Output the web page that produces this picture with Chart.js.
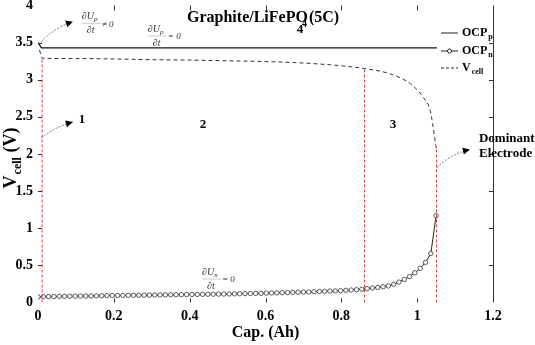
<!DOCTYPE html>
<html>
<head>
  <script src="https://cdn.jsdelivr.net/npm/chart.js"></script>
  <style>
    body { margin: 0; background: #fff; }
  </style>
</head>
<body>
  <canvas id="chart" width="535" height="345"></canvas>
  <script>
    // OCP of the positive electrode
    const capP = [0, 0.009, 1.052];
    const ocpP = [3.5, 3.43, 3.43];

    // OCP of the negative electrode (circle markers)
    const capN = [0, 0.014, 0.028, 0.042, 0.056, 0.07, 0.084, 0.098, 0.112, 0.126,
      0.14, 0.154, 0.168, 0.182, 0.196, 0.21, 0.224, 0.238, 0.252, 0.266,
      0.28, 0.294, 0.308, 0.322, 0.336, 0.35, 0.364, 0.378, 0.392, 0.406,
      0.42, 0.434, 0.448, 0.462, 0.476, 0.49, 0.504, 0.518, 0.532, 0.546,
      0.56, 0.574, 0.588, 0.602, 0.616, 0.63, 0.644, 0.658, 0.672, 0.686,
      0.7, 0.714, 0.728, 0.742, 0.756, 0.77, 0.784, 0.798, 0.812, 0.826,
      0.84, 0.854, 0.868, 0.882, 0.896, 0.91, 0.924, 0.938, 0.952, 0.966,
      0.98, 0.994, 1.008, 1.022, 1.036, 1.05];
    const ocpN = [0.075, 0.078, 0.080, 0.081, 0.082, 0.083, 0.084, 0.085, 0.086, 0.087,
      0.088, 0.089, 0.091, 0.092, 0.093, 0.094, 0.095, 0.096, 0.097, 0.098,
      0.099, 0.100, 0.101, 0.102, 0.103, 0.104, 0.105, 0.106, 0.107, 0.108,
      0.109, 0.110, 0.111, 0.112, 0.113, 0.114, 0.115, 0.117, 0.118, 0.120,
      0.121, 0.123, 0.124, 0.126, 0.128, 0.130, 0.132, 0.134, 0.136, 0.138,
      0.140, 0.142, 0.145, 0.148, 0.151, 0.154, 0.157, 0.160, 0.164, 0.168,
      0.173, 0.180, 0.187, 0.195, 0.203, 0.212, 0.223, 0.245, 0.275, 0.31,
      0.35, 0.40, 0.46, 0.54, 0.66, 1.17];

    // cell voltage (dashed)
    const capCell = [0.004, 0.011, 0.1, 0.2, 0.3, 0.4, 0.5, 0.6, 0.7, 0.796,
      0.862, 0.928, 0.981, 1.015, 1.034, 1.042, 1.049, 1.051];
    const vCell = [3.40, 3.29, 3.285, 3.28, 3.27, 3.265, 3.255, 3.245, 3.225, 3.19,
      3.15, 3.08, 2.95, 2.77, 2.59, 2.37, 2.12, 2.08];

    // red dashed phase boundaries
    const phaseCap = [0.011, 0.861, 1.051];
    const phaseTop = [3.29, 3.15, 2.1];

    const xTicks = [0, 0.2, 0.4, 0.6, 0.8, 1, 1.2];
    const yTicks = [0, 0.5, 1, 1.5, 2, 2.5, 3, 3.5, 4];

    const SERIF = '"Liberation Serif", "DejaVu Serif", serif';
    const pts = (xs, ys) => xs.map((x, i) => ({ x: x, y: ys[i] }));

    const datasets = phaseCap.map((c, i) => ({
      data: [{ x: c, y: 0 }, { x: c, y: phaseTop[i] }],
      borderColor: 'rgba(222,40,40,0.9)',
      borderWidth: 1,
      borderDash: [3, 2],
      pointRadius: 0
    }));
    datasets.push({
      data: pts(capP, ocpP),
      borderColor: '#111',
      borderWidth: 1.3,
      pointRadius: 0
    });
    datasets.push({
      data: pts(capCell, vCell),
      borderColor: '#333',
      borderWidth: 1,
      borderDash: [4, 3],
      cubicInterpolationMode: 'monotone',
      pointRadius: 0
    });
    datasets.push({
      data: pts(capN, ocpN),
      borderColor: '#222',
      borderWidth: 1,
      pointRadius: 2.2,
      pointBorderWidth: 0.8,
      pointBorderColor: '#333',
      pointBackgroundColor: '#fff'
    });

    function subText(ctx, base, sub, x, y, size, subSize) {
      ctx.font = 'bold ' + size + 'px ' + SERIF;
      ctx.fillText(base, x, y);
      const w = ctx.measureText(base).width;
      ctx.font = 'bold ' + subSize + 'px ' + SERIF;
      ctx.fillText(sub, x + w + 1, y + size * 0.35);
    }

    function frac(ctx, cx, by, sub, tail) {
      ctx.save();
      ctx.fillStyle = '#333';
      ctx.strokeStyle = '#999';
      ctx.textBaseline = 'middle';
      ctx.font = 'italic 10px ' + SERIF;
      const nw = ctx.measureText('\u2202U').width;
      ctx.fillText('\u2202U', cx - 10, by - 7);
      ctx.font = 'italic 7px ' + SERIF;
      ctx.fillText(sub, cx - 10 + nw, by - 4);
      ctx.lineWidth = 0.5;
      ctx.beginPath();
      ctx.moveTo(cx - 10, by);
      ctx.lineTo(cx + 9, by);
      ctx.stroke();
      ctx.font = 'italic 10px ' + SERIF;
      ctx.fillText('\u2202t', cx - 5, by + 7);
      ctx.font = 'italic 9px ' + SERIF;
      ctx.fillText(tail, cx + 10, by + 1);
      ctx.restore();
    }

    function arrow(ctx, x0, y0, x1, y1, bend) {
      const mx = (x0 + x1) / 2, my = (y0 + y1) / 2;
      const dx = x1 - x0, dy = y1 - y0, len = Math.hypot(dx, dy);
      const cx = mx - dy / len * bend, cy = my + dx / len * bend;
      ctx.save();
      ctx.strokeStyle = '#555';
      ctx.lineWidth = 0.8;
      ctx.setLineDash([2, 1.5]);
      ctx.beginPath();
      ctx.moveTo(x0, y0);
      ctx.quadraticCurveTo(cx, cy, x1, y1);
      ctx.stroke();
      const a = Math.atan2(y1 - cy, x1 - cx);
      ctx.setLineDash([]);
      ctx.fillStyle = '#000';
      ctx.beginPath();
      ctx.moveTo(x1, y1);
      ctx.lineTo(x1 - 7 * Math.cos(a) + 3.5 * Math.sin(a), y1 - 7 * Math.sin(a) - 3.5 * Math.cos(a));
      ctx.lineTo(x1 - 7 * Math.cos(a) - 3.5 * Math.sin(a), y1 - 7 * Math.sin(a) + 3.5 * Math.cos(a));
      ctx.closePath();
      ctx.fill();
      ctx.restore();
    }

    const decor = {
      id: 'decor',
      afterDraw(chart) {
        const ctx = chart.ctx;
        const sx = chart.scales.x, sy = chart.scales.y;
        const a = chart.chartArea;
        const X = v => sx.getPixelForValue(v), Y = v => sy.getPixelForValue(v);

        // right frame line and inward ticks
        ctx.save();
        ctx.strokeStyle = '#333';
        ctx.lineWidth = 1;
        ctx.beginPath();
        ctx.moveTo(a.right + 0.5, a.top);
        ctx.lineTo(a.right + 0.5, a.bottom);
        xTicks.slice(1, -1).forEach(t => {
          const px = Math.round(X(t)) + 0.5;
          ctx.moveTo(px, a.bottom); ctx.lineTo(px, a.bottom - 4);
          ctx.moveTo(px, a.top); ctx.lineTo(px, a.top + 5);
        });
        yTicks.slice(1, -1).forEach(t => {
          const py = Math.round(Y(t)) + 0.5;
          ctx.moveTo(a.left, py); ctx.lineTo(a.left + 4, py);
          ctx.moveTo(a.right, py); ctx.lineTo(a.right - 4, py);
        });
        ctx.stroke();
        ctx.restore();

        ctx.save();
        ctx.fillStyle = '#000';
        ctx.textBaseline = 'middle';

        // title
        ctx.font = 'bold 16px ' + SERIF;
        const tx = X(0.393), ty = Y(3.83);
        ctx.fillText('Graphite/LiFePO', tx, ty);
        const tw = ctx.measureText('Graphite/LiFePO').width;
        ctx.font = 'bold 10px ' + SERIF;
        ctx.fillText('4', tx + tw - 6, ty + 6);
        ctx.font = 'bold 16px ' + SERIF;
        ctx.fillText('(5C)', tx + tw + 1, ty);

        // region numbers
        ctx.font = 'bold 13px ' + SERIF;
        ctx.textAlign = 'center';
        ctx.fillText('1', X(0.116), Y(2.46));
        ctx.fillText('2', X(0.435), Y(2.39));
        ctx.fillText('3', X(0.936), Y(2.40));
        ctx.fillText('4', X(0.691), Y(3.67));
        ctx.textAlign = 'left';

        // dominant electrode note
        ctx.font = 'bold 13px ' + SERIF;
        ctx.fillText('Dominant', X(1.163), Y(2.21));
        ctx.fillText('Electrode', X(1.163), Y(2.0));

        // derivative notes
        frac(ctx, X(0.142), Y(3.76), 'p', '\u2260 0');
        frac(ctx, X(0.316), Y(3.59), 'p', '= 0');
        frac(ctx, X(0.459), Y(0.316), 'n', '= 0');

        arrow(ctx, X(0.008), Y(3.51), X(0.092), Y(3.78), -5);
        arrow(ctx, X(0.008), Y(2.21), X(0.092), Y(2.43), -4);
        arrow(ctx, X(1.052), Y(1.82), X(1.139), Y(2.06), -5);

        // legend
        const lx0 = 441, lx1 = 458, tx0 = 462;
        const rows = [33, 51, 68];
        ctx.strokeStyle = '#222';
        ctx.lineWidth = 1;
        ctx.beginPath();
        ctx.moveTo(lx0, rows[0]); ctx.lineTo(lx1, rows[0]);
        ctx.moveTo(lx0, rows[1]); ctx.lineTo(lx1, rows[1]);
        ctx.stroke();
        ctx.beginPath();
        ctx.fillStyle = '#fff';
        ctx.arc((lx0 + lx1) / 2, rows[1], 2, 0, Math.PI * 2);
        ctx.fill();
        ctx.stroke();
        ctx.setLineDash([3, 2]);
        ctx.beginPath();
        ctx.moveTo(lx0, rows[2]); ctx.lineTo(lx1, rows[2]);
        ctx.stroke();
        ctx.setLineDash([]);
        ctx.fillStyle = '#000';
        subText(ctx, 'OCP', 'p', tx0, rows[0], 12, 8);
        subText(ctx, 'OCP', 'n', tx0, rows[1], 12, 8);
        subText(ctx, 'V', 'cell', tx0, rows[2], 12, 8);

        // axis titles
        ctx.font = 'bold 16px ' + SERIF;
        ctx.textAlign = 'center';
        ctx.fillText('Cap. (Ah)', (a.left + a.right) / 2, 333);
        ctx.textAlign = 'left';
        ctx.translate(11, 158);
        ctx.rotate(-Math.PI / 2);
        ctx.font = 'bold 18px ' + SERIF;
        const w1 = ctx.measureText('V').width;
        ctx.font = 'bold 12px ' + SERIF;
        const w2 = ctx.measureText('cell').width;
        ctx.font = 'bold 18px ' + SERIF;
        const w3 = ctx.measureText(' (V)').width;
        const ox = -(w1 + w2 + 1 + w3) / 2;
        ctx.fillText('V', ox, 0);
        ctx.font = 'bold 12px ' + SERIF;
        ctx.fillText('cell', ox + w1 + 1, 7);
        ctx.font = 'bold 18px ' + SERIF;
        ctx.fillText(' (V)', ox + w1 + 1 + w2, 0);
        ctx.restore();
      }
    };

    const tickFont = { family: SERIF, size: 14, weight: 'bold' };
    const fmt = v => String(+Number(v).toFixed(2));

    new Chart(document.getElementById('chart').getContext('2d'), {
      type: 'line',
      data: { datasets: datasets },
      options: {
        responsive: false,
        animation: false,
        layout: { padding: { top: 5.5, right: 42, left: 0, bottom: 0 } },
        plugins: { legend: { display: false }, tooltip: { enabled: false } },
        scales: {
          x: {
            type: 'linear', min: 0, max: 1.2,
            afterBuildTicks: s => { s.ticks = xTicks.map(v => ({ value: v })); },
            afterFit: s => { s.height = 42.5; s.paddingLeft = 0; s.paddingRight = 0; },
            grid: { display: false, drawTicks: false },
            border: { display: false },
            ticks: { font: tickFont, color: '#000', padding: 5, callback: fmt }
          },
          y: {
            type: 'linear', min: 0, max: 4,
            afterBuildTicks: s => { s.ticks = yTicks.map(v => ({ value: v })); },
            afterFit: s => { s.width = 38; s.paddingTop = 0; s.paddingBottom = 0; },
            grid: { display: false, drawTicks: false },
            border: { display: false },
            ticks: { font: tickFont, color: '#000', padding: 5, callback: fmt }
          }
        }
      },
      plugins: [decor]
    });
  </script>
</body>
</html>
